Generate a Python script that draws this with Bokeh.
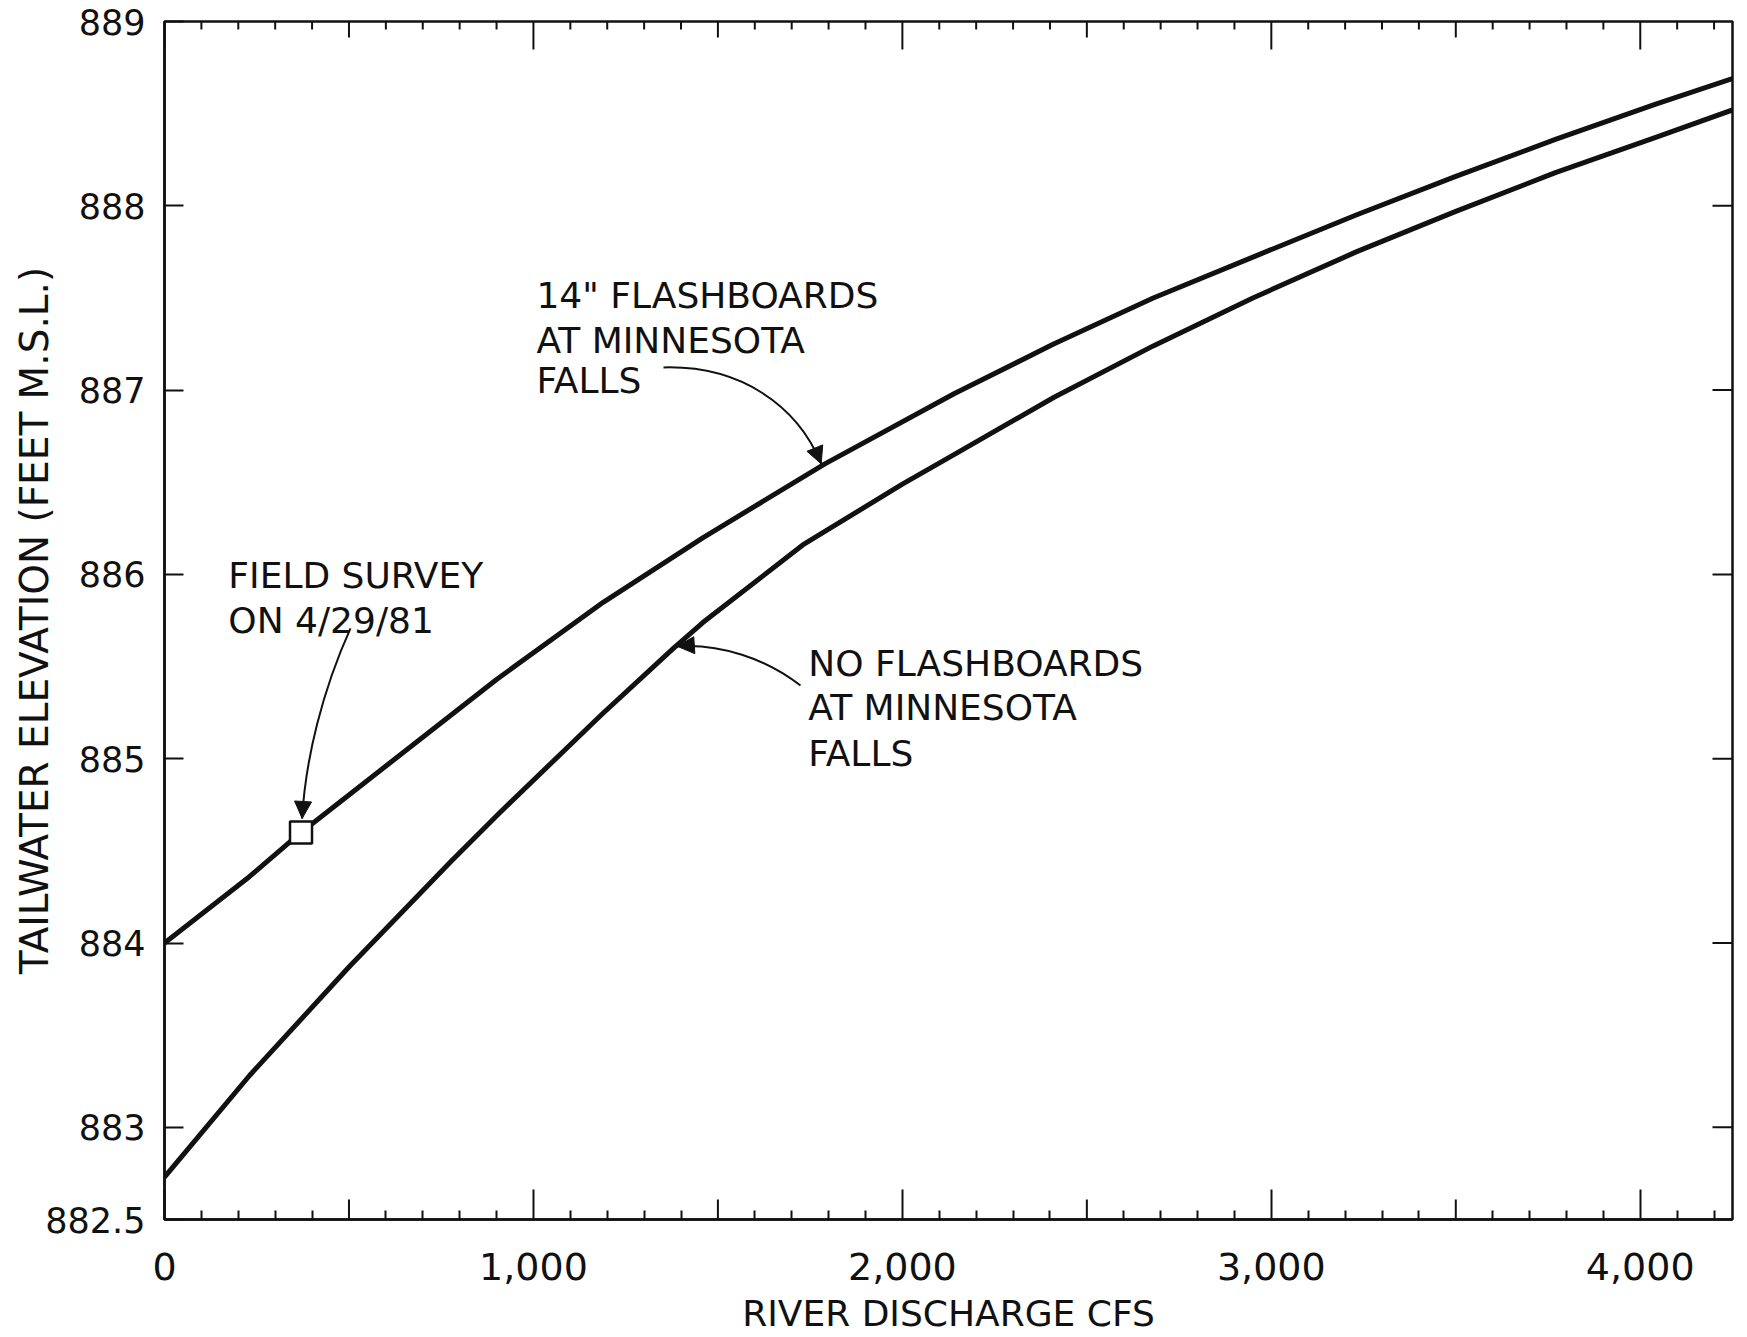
from bokeh.plotting import figure
from bokeh.models import (Range1d, FixedTicker, NumeralTickFormatter,
                          PrintfTickFormatter, Label, Arrow, NormalHead)
from bokeh.embed import file_html
from bokeh.resources import INLINE

# Tailwater rating curves: river discharge (cfs) vs. tailwater elevation (ft M.S.L.)
flash_cfs = [0, 230, 370, 900, 1190, 1460, 1790, 2140, 2410, 2680, 2960, 3230, 3500, 3770, 4040, 4250]
flash_elev = [884.00, 884.36, 884.60, 885.43, 885.85, 886.20, 886.60, 886.98, 887.25,
              887.50, 887.73, 887.95, 888.16, 888.36, 888.55, 888.69]

noflash_cfs = [0, 230, 500, 775, 910, 1185, 1380, 1460, 1730, 2000, 2140, 2410, 2680,
               2950, 3230, 3500, 3770, 4040, 4250]
noflash_elev = [882.73, 883.28, 883.87, 884.44, 884.71, 885.24, 885.60, 885.74, 886.16,
                886.49, 886.65, 886.96, 887.24, 887.50, 887.75, 887.97, 888.18, 888.37, 888.52]

# Field survey of 4/29/81
survey_cfs = [370]
survey_elev = [884.60]

# Axis ticks
x_major = [0, 1000, 2000, 3000, 4000]
x_mid = [500, 1500, 2500, 3500]
x_minor = [v for v in range(100, 4300, 100) if v % 500]
y_ticks = [882.5, 883, 884, 885, 886, 887, 888, 889]
y_side_ticks = [883, 884, 885, 886, 887, 888]

X0, X1 = 0, 4250
Y0, Y1 = 882.5, 889.0
W, H = 1747, 1337
B_LEFT, B_RIGHT, B_TOP, B_BOTTOM = 164, 15, 21, 118
PX_PER_FT = (H - B_TOP - B_BOTTOM) / (Y1 - Y0)
PX_PER_CFS = (W - B_LEFT - B_RIGHT) / (X1 - X0)

FONT = "DejaVu Sans"
INK = "#111111"

p = figure(width=W, height=H, x_range=Range1d(X0, X1), y_range=Range1d(Y0, Y1),
           output_backend="svg", toolbar_location=None,
           min_border_left=B_LEFT, min_border_right=B_RIGHT,
           min_border_top=B_TOP, min_border_bottom=B_BOTTOM,
           background_fill_color="white", border_fill_color="white")
p.grid.visible = False
p.outline_line_color = INK
p.outline_line_width = 2.5

# bottom axis
xa = p.xaxis[0]
xa.ticker = FixedTicker(ticks=x_major, minor_ticks=x_minor)
xa.formatter = NumeralTickFormatter(format="0,0")
xa.major_tick_in, xa.major_tick_out = 30, 0
xa.minor_tick_in, xa.minor_tick_out = 9, 0
xa.major_tick_line_width = 2
xa.minor_tick_line_width = 2
xa.axis_line_width = 2.5
xa.axis_line_color = INK
xa.major_tick_line_color = INK
xa.minor_tick_line_color = INK
xa.major_label_standoff = 33
xa.major_label_text_font = FONT
xa.major_label_text_font_size = "38px"
xa.major_label_text_color = INK
xa.axis_label = "RIVER DISCHARGE CFS"
xa.axis_label_text_font = FONT
xa.axis_label_text_font_size = "36px"
xa.axis_label_text_font_style = "normal"
xa.axis_label_text_color = INK
xa.axis_label_standoff = 10

# left axis
ya = p.yaxis[0]
ya.ticker = FixedTicker(ticks=y_ticks)
ya.formatter = PrintfTickFormatter(format="%g")
ya.major_tick_in, ya.major_tick_out = 19, 0
ya.minor_tick_in, ya.minor_tick_out = 0, 0
ya.major_tick_line_width = 2
ya.axis_line_width = 2.5
ya.axis_line_color = INK
ya.major_tick_line_color = INK
ya.major_label_standoff = 19
ya.major_label_text_font = FONT
ya.major_label_text_font_size = "35px"
ya.major_label_text_color = INK
ya.axis_label = "TAILWATER ELEVATION (FEET M.S.L.)"
ya.axis_label_text_font = FONT
ya.axis_label_text_font_size = "39px"
ya.axis_label_text_font_style = "normal"
ya.axis_label_text_color = INK
ya.axis_label_standoff = -15


def edge_ticks(xs, y_edge, length_px, direction):
    n = len(xs)
    p.segment(x0=xs, y0=[y_edge] * n, x1=xs,
              y1=[y_edge + direction * length_px / PX_PER_FT] * n,
              line_color=INK, line_width=2)


# half-thousand ticks on the bottom edge, full tick set along the top edge
edge_ticks(x_mid, Y0, 20, 1)
edge_ticks(x_major, Y1, 28, -1)
edge_ticks(x_mid, Y1, 16, -1)
edge_ticks(x_minor, Y1, 8, -1)

# elevation ticks along the right edge
n_side = len(y_side_ticks)
p.segment(x0=[X1] * n_side, y0=y_side_ticks, x1=[X1 - 20 / PX_PER_CFS] * n_side,
          y1=y_side_ticks, line_color=INK, line_width=2)

# rating curves
p.line(flash_cfs, flash_elev, line_color=INK, line_width=5, line_join="round")
p.line(noflash_cfs, noflash_elev, line_color=INK, line_width=5, line_join="round")
p.scatter(survey_cfs, survey_elev, marker="square", size=22, fill_color="white",
          line_color=INK, line_width=2.5)


def note(x, y, text):
    p.add_layout(Label(x=x, y=y, text=text, text_font=FONT, text_font_size="36px",
                       text_color=INK, text_align="left", text_baseline="alphabetic"))


note(1008, 887.513, '14" FLASHBOARDS')
note(1008, 887.269, "AT MINNESOTA")
note(1008, 887.052, "FALLS")

note(1745, 885.517, "NO FLASHBOARDS")
note(1745, 885.278, "AT MINNESOTA")
note(1745, 885.028, "FALLS")

note(173, 885.994, "FIELD SURVEY")
note(173, 885.750, "ON 4/29/81")


def leader(p0, c0, c1, tip):
    p.bezier(x0=[p0[0]], y0=[p0[1]], x1=[tip[0]], y1=[tip[1]],
             cx0=[c0[0]], cy0=[c0[1]], cx1=[c1[0]], cy1=[c1[1]],
             line_color=INK, line_width=2)
    p.add_layout(Arrow(end=NormalHead(size=17, fill_color=INK, line_color=INK, line_width=1),
                       x_start=c1[0], y_start=c1[1], x_end=tip[0], y_end=tip[1],
                       line_alpha=0))


leader((1352.5, 887.123), (1561.2, 887.134), (1715.7, 886.917), (1780, 886.60))
leader((1723.8, 885.397), (1628.9, 885.544), (1507.0, 885.625), (1390, 885.61))
leader((504.1, 885.707), (428.2, 885.370), (382.2, 885.001), (373, 884.676))

open("out.html", "w").write(file_html(p, INLINE))
